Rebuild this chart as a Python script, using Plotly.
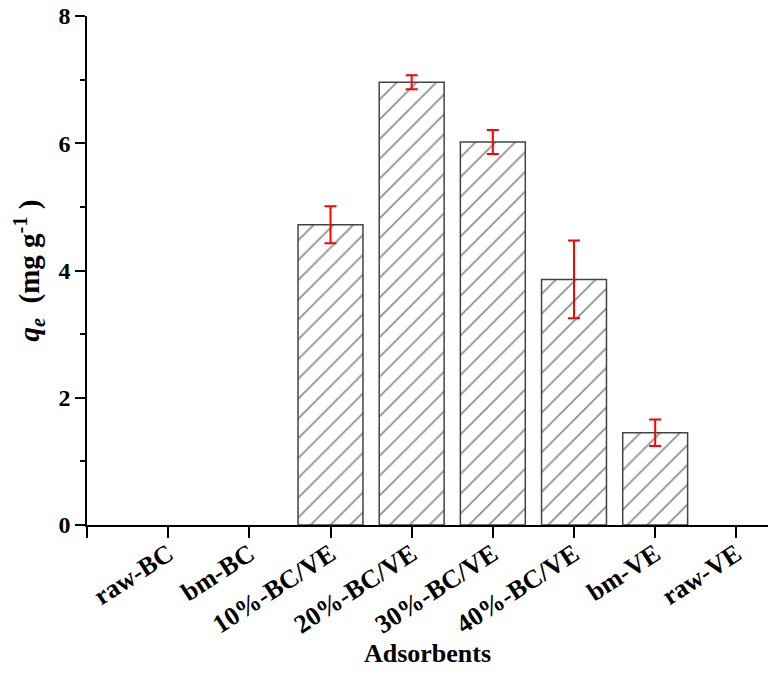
import plotly.graph_objects as go

categories = ["raw-BC", "bm-BC", "10%-BC/VE", "20%-BC/VE", "30%-BC/VE", "40%-BC/VE", "bm-VE", "raw-VE"]
qe_values = [None, None, 4.72, 6.96, 6.02, 3.86, 1.45, None]
qe_errors = [None, None, 0.29, 0.11, 0.19, 0.61, 0.21, None]
y_ticks = [0, 2, 4, 6, 8]

positions = list(range(1, len(categories) + 1))
FONT = "Liberation Serif, Times New Roman, serif"

fig = go.Figure()
fig.add_trace(go.Bar(
    x=positions,
    y=qe_values,
    width=0.8,
    marker=dict(
        color="white",
        line=dict(color="#444444", width=1.5),
        pattern=dict(shape="/", fgcolor="#222222", bgcolor="white", size=14, solidity=0.13),
    ),
    error_y=dict(type="data", array=qe_errors, visible=True, color="red", thickness=2, width=6),
    showlegend=False,
))

fig.update_layout(
    width=770, height=673,
    margin=dict(l=87, r=2, t=16, b=148),
    paper_bgcolor="white", plot_bgcolor="white",
    font=dict(family=FONT, color="black"),
    xaxis=dict(
        range=[0, 8.39],
        tickmode="array",
        tickvals=[0] + positions,
        ticktext=[""] + categories,
        tickangle=-33,
        tickfont=dict(family=FONT, size=26, weight="bold"),
        ticks="outside", ticklen=11, tickwidth=1.5, tickcolor="black",
        ticklabelstandoff=-9,
        showline=True, linecolor="black", linewidth=1.5,
        showgrid=False, zeroline=False, automargin=False,
        title=dict(text="Adsorbents", font=dict(family=FONT, size=26, weight="bold"), standoff=5),
    ),
    yaxis=dict(
        range=[0, 8],
        tickmode="array",
        tickvals=y_ticks,
        tickfont=dict(family=FONT, size=24, weight="bold"),
        ticklabeloverflow="allow",
        ticks="outside", ticklen=10, tickwidth=1.5, tickcolor="black",
        minor=dict(dtick=1, ticks="outside", ticklen=5, tickwidth=1.5, tickcolor="black", showgrid=False),
        showline=True, linecolor="black", linewidth=1.5,
        showgrid=False, zeroline=False, automargin=False,
        title=dict(text="<i>q<sub>e</sub></i>&nbsp;&nbsp;(mg&nbsp;g<sup>-1</sup>&nbsp;)",
                   font=dict(family=FONT, size=29, weight="bold"), standoff=10),
    ),
)

# Remove the default 8px page margin so the figure fills the window exactly.
fig.write_html(
    "out.html",
    config={"displayModeBar": False},
    post_script="document.body.style.margin='0';document.body.style.overflow='hidden';",
)
